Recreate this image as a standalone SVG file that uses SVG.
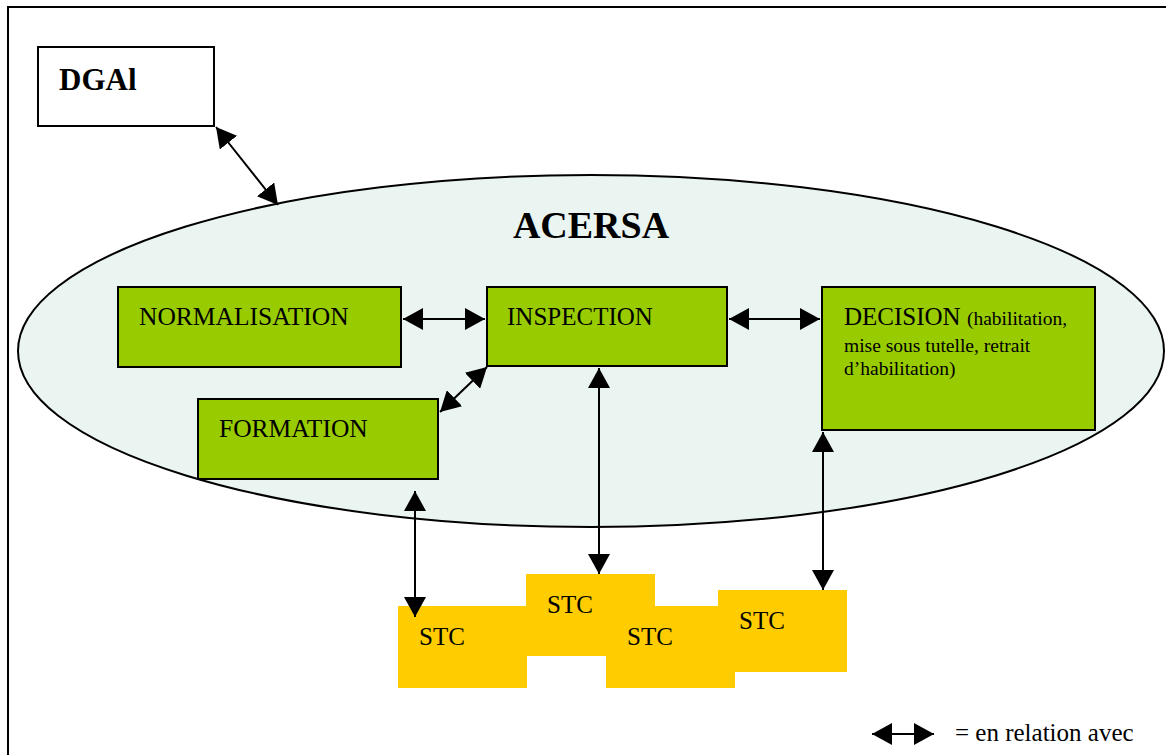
<svg xmlns="http://www.w3.org/2000/svg" width="1166" height="755" viewBox="0 0 1166 755">
<style>
.t{font-family:"Liberation Serif","Times New Roman",serif;fill:#000}
.g{fill:#99CC00;stroke:#000;stroke-width:2}
.y{fill:#FFCC00}
.c{stroke:#000;stroke-width:2;fill:none;marker-start:url(#ah);marker-end:url(#ah)}
</style>
<defs>
<marker id="ah" markerUnits="userSpaceOnUse" markerWidth="20" markerHeight="22" refX="20" refY="11" orient="auto-start-reverse" viewBox="0 0 20 22">
<path d="M0,0 L20,11 L0,22 z" fill="#000"/>
</marker>
</defs>
<rect x="0" y="0" width="1166" height="755" fill="#fff"/>
<rect x="8" y="7" width="1170" height="760" fill="none" stroke="#000" stroke-width="2"/>
<g id="acersa">
<ellipse cx="591" cy="351" rx="573" ry="176" fill="#EAF4F0" stroke="#000" stroke-width="2"/>
<text class="t" x="591" y="238" font-size="38" font-weight="bold" text-anchor="middle">ACERSA</text>
</g>
<g id="dgal">
<rect x="38" y="47" width="176" height="79" fill="#fff" stroke="#000" stroke-width="2"/>
<text class="t" x="59" y="90" font-size="31" font-weight="bold">DGAl</text>
</g>
<g id="normalisation">
<rect class="g" x="118" y="287" width="283" height="80"/>
<text class="t" x="139" y="325" font-size="25.5">NORMALISATION</text>
</g>
<g id="inspection">
<rect class="g" x="487" y="287" width="240" height="79"/>
<text class="t" x="507" y="325" font-size="25">INSPECTION</text>
</g>
<g id="decision">
<rect class="g" x="822" y="287" width="273" height="143"/>
<text class="t" x="844" y="325" font-size="25">DECISION <tspan font-size="19.5">(habilitation,</tspan></text>
<text class="t" x="844" y="352" font-size="19.5">mise sous tutelle, retrait</text>
<text class="t" x="844" y="375" font-size="19.5">d’habilitation)</text>
</g>
<g id="formation">
<rect class="g" x="198" y="399" width="240" height="80"/>
<text class="t" x="219" y="437" font-size="25.5">FORMATION</text>
</g>
<g id="stc">
<rect class="y" x="398" y="606" width="129" height="82"/>
<rect class="y" x="526" y="574" width="129" height="82"/>
<rect class="y" x="606" y="606" width="129" height="82"/>
<rect class="y" x="718" y="590" width="129" height="82"/>
<text class="t" x="419" y="645" font-size="25">STC</text>
<text class="t" x="547" y="613" font-size="25">STC</text>
<text class="t" x="627" y="645" font-size="25">STC</text>
<text class="t" x="739" y="629" font-size="25">STC</text>
</g>
<g id="connectors">
<line class="c" x1="216" y1="127" x2="278" y2="205"/>
<line class="c" x1="403" y1="319" x2="485" y2="319"/>
<line class="c" x1="729" y1="319" x2="820" y2="319"/>
<line class="c" x1="440" y1="412" x2="487" y2="367"/>
<line class="c" x1="599" y1="368" x2="599" y2="574"/>
<line class="c" x1="415" y1="491" x2="415" y2="617"/>
<line class="c" x1="823" y1="432" x2="823" y2="590"/>
</g>
<g id="legend">
<line class="c" x1="872" y1="734" x2="934" y2="734"/>
<text class="t" x="955" y="741" font-size="25">= en relation avec</text>
</g>
</svg>
